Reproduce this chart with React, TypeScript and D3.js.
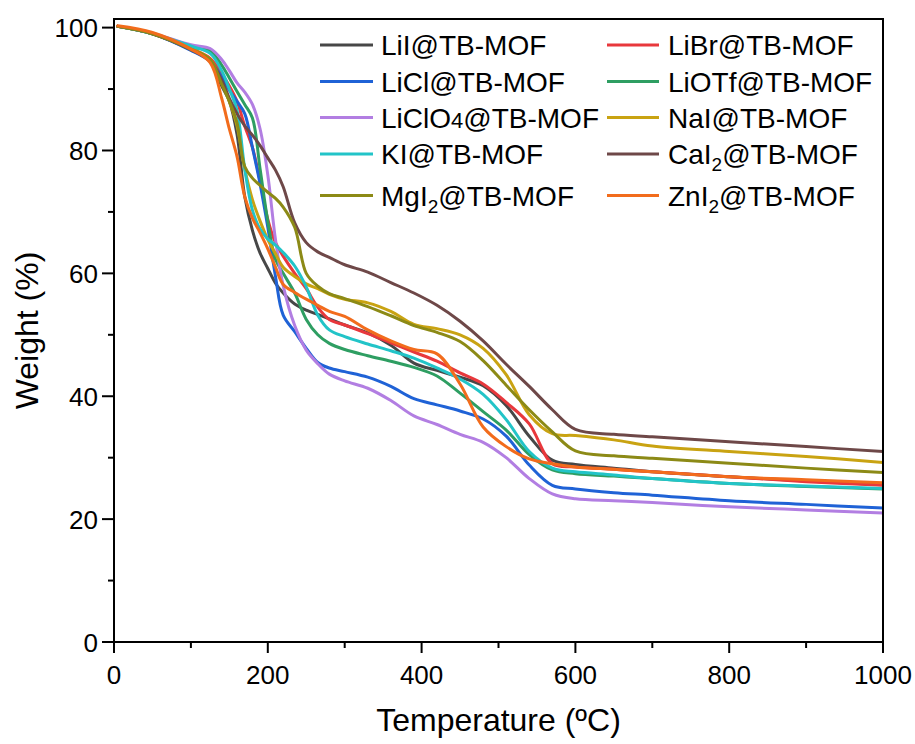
import React from 'react';
import * as d3 from 'd3';

// Temperature grid (°C) shared by every TGA curve
const temps = [5, 50, 100, 125, 140, 150, 160, 170, 180, 190, 200, 210, 220, 235, 250, 265, 280, 300, 330, 360, 390, 420, 450, 480, 510, 540, 570, 600, 650, 700, 800, 900, 1000];

const LiI = [100.2, 99.0, 96.4, 94.6, 90.5, 88.0, 82.6, 72.5, 67.0, 63.3, 60.8, 58.4, 56.8, 55.0, 54.0, 53.3, 52.6, 51.6, 50.3, 48.3, 45.4, 44.2, 43.1, 41.7, 38.5, 33.5, 29.6, 28.9, 28.3, 27.7, 26.9, 26.2, 25.6];
const LiBr = [100.2, 99.0, 96.6, 95.0, 92.5, 90.5, 88.0, 84.0, 80.5, 75.0, 68.8, 65.0, 62.8, 60.0, 57.5, 54.5, 52.5, 51.6, 50.2, 48.7, 47.2, 45.7, 43.8, 42.0, 39.0, 35.5, 29.0, 28.5, 28.1, 27.7, 26.9, 26.1, 25.5];
const LiCl = [100.2, 99.0, 96.3, 94.5, 92.0, 89.8, 88.0, 86.0, 80.5, 74.5, 67.5, 59.5, 53.2, 50.5, 47.8, 45.5, 44.6, 44.0, 43.1, 41.6, 39.6, 38.6, 37.6, 36.3, 33.5, 28.8, 25.5, 24.9, 24.3, 23.9, 23.0, 22.4, 21.8];
const LiOTf = [100.2, 99.0, 96.8, 96.2, 93.9, 91.8, 89.6, 87.5, 85.3, 77.0, 68.5, 62.3, 60.0, 56.8, 52.5, 50.0, 48.6, 47.6, 46.6, 45.7, 44.7, 43.3, 40.5, 37.5, 34.5, 30.5, 28.0, 27.4, 27.0, 26.6, 25.8, 25.3, 24.9];
const LiClO4 = [100.2, 99.1, 97.2, 96.6, 94.8, 93.0, 91.0, 89.5, 87.5, 83.5, 76.0, 65.5, 58.0, 51.5, 47.5, 45.3, 43.6, 42.5, 41.3, 39.3, 36.8, 35.4, 33.8, 32.5, 30.0, 26.6, 24.1, 23.3, 23.0, 22.7, 22.0, 21.5, 21.0];
const NaI = [100.2, 99.0, 96.6, 94.8, 91.0, 88.0, 84.0, 77.0, 72.0, 68.5, 65.5, 63.2, 61.0, 59.5, 58.3, 57.5, 56.6, 55.8, 55.2, 53.8, 51.7, 51.0, 50.0, 47.8, 43.5, 37.0, 33.9, 33.6, 32.9, 31.9, 31.0, 30.2, 29.2];
const KI = [100.2, 99.0, 97.0, 95.8, 93.0, 90.0, 86.5, 77.0, 70.3, 67.2, 65.6, 64.6, 63.4, 61.2, 57.8, 53.2, 50.8, 49.7, 48.5, 47.4, 46.2, 44.6, 42.8, 40.3, 36.2, 31.0, 28.3, 27.7, 27.2, 26.6, 25.8, 25.4, 25.0];
const CaI2 = [100.2, 99.0, 96.4, 94.5, 91.5, 88.5, 86.0, 84.0, 82.5, 80.8, 78.8, 76.8, 74.1, 68.2, 65.0, 63.5, 62.6, 61.4, 60.2, 58.5, 56.8, 54.8, 52.2, 49.0, 45.2, 41.6, 37.8, 34.6, 33.8, 33.4, 32.6, 31.8, 31.0];
const MgI2 = [100.2, 99.0, 96.5, 94.8, 90.8, 88.0, 84.5, 77.4, 75.5, 74.3, 73.2, 72.2, 70.8, 67.5, 60.0, 57.9, 56.7, 55.9, 54.6, 53.1, 51.5, 50.4, 48.9, 45.8, 41.8, 37.8, 34.2, 31.1, 30.3, 29.9, 29.1, 28.3, 27.6];
const ZnI2 = [100.3, 99.2, 96.5, 94.3, 88.5, 83.5, 79.0, 72.5, 69.0, 66.6, 64.0, 61.0, 58.2, 56.9, 55.8, 54.8, 53.8, 53.0, 50.8, 49.0, 47.6, 46.9, 42.0, 35.0, 31.8, 29.8, 29.0, 28.5, 28.1, 27.7, 26.9, 26.4, 25.9];

// Legend / series order (row-wise, two columns)
const seriesData = [LiI, LiBr, LiCl, LiOTf, LiClO4, NaI, KI, CaI2, MgI2, ZnI2];
const labelMain = ['LiI', 'LiBr', 'LiCl', 'LiOTf', 'LiClO', 'NaI', 'KI', 'CaI', 'MgI', 'ZnI'];
const labelSub = ['', '', '', '', '4', '', '', '2', '2', '2'];
const labelSuffix = '@TB-MOF';
const colors = ['#474747', '#e8383c', '#1f62d6', '#2e9e62', '#b27ee2', '#c9a312', '#22c4c8', '#6e4848', '#8c8a16', '#f26c1c'];

const xMajor = [0, 200, 400, 600, 800, 1000];
const xMinor = [100, 300, 500, 700, 900];
const yMajor = [0, 20, 40, 60, 80, 100];
const yMinor = [10, 30, 50, 70, 90];

const FONT = '"Liberation Sans", Arial, Helvetica, sans-serif';

export default function App() {
  const W = 915, H = 744;
  const left = 114, right = 883, top = 19, bottom = 642;
  const x = d3.scaleLinear().domain([0, 1000]).range([left, right]);
  const y = d3.scaleLinear().domain([0, 101.4]).range([bottom, top]);
  const line = d3
    .line<number>()
    .x((_, i) => x(temps[i]))
    .y((d) => y(d))
    .curve(d3.curveCatmullRom.alpha(0.5));

  const rowY = [45, 81.5, 117.5, 154, 195.5];
  const colLine = [[320, 373], [607, 659]];
  const colText = [381, 668];

  return (
    <div style={{ position: 'absolute', left: 0, top: 0 }}>
      <svg width={W} height={H} viewBox={`0 0 ${W} ${H}`} style={{ display: 'block', background: '#fff' }}>
        <rect x={0} y={0} width={W} height={H} fill="#fff" />
        <defs>
          <clipPath id="plotclip">
            <rect x={left} y={top} width={right - left} height={bottom - top} />
          </clipPath>
        </defs>
        <g clipPath="url(#plotclip)">
          {seriesData.map((s, i) => (
            <path key={i} d={line(s) || ''} fill="none" stroke={colors[i]} strokeWidth={3} strokeLinejoin="round" strokeLinecap="round" />
          ))}
        </g>
        {/* frame */}
        <rect x={left} y={top} width={right - left} height={bottom - top} fill="none" stroke="#000" strokeWidth={2} />
        {/* x ticks */}
        {xMajor.map((t) => (
          <g key={'xm' + t}>
            <line x1={x(t)} x2={x(t)} y1={bottom} y2={bottom + 11} stroke="#000" strokeWidth={2} />
            <text x={x(t)} y={bottom + 42} textAnchor="middle" fontFamily={FONT} fontSize={26} fill="#000">{t}</text>
          </g>
        ))}
        {xMinor.map((t) => (
          <line key={'xn' + t} x1={x(t)} x2={x(t)} y1={bottom} y2={bottom + 6} stroke="#000" strokeWidth={2} />
        ))}
        {/* y ticks */}
        {yMajor.map((t) => (
          <g key={'ym' + t}>
            <line x1={left - 12} x2={left} y1={y(t)} y2={y(t)} stroke="#000" strokeWidth={2} />
            <text x={left - 16} y={y(t) + 9.5} textAnchor="end" fontFamily={FONT} fontSize={26} fill="#000">{t}</text>
          </g>
        ))}
        {yMinor.map((t) => (
          <line key={'yn' + t} x1={left - 6} x2={left} y1={y(t)} y2={y(t)} stroke="#000" strokeWidth={2} />
        ))}
        {/* axis titles */}
        <text x={(left + right) / 2} y={731} textAnchor="middle" fontFamily={FONT} fontSize={32} fill="#000">Temperature (ºC)</text>
        <text transform={`translate(38, ${(top + bottom) / 2}) rotate(-90)`} textAnchor="middle" fontFamily={FONT} fontSize={32} fill="#000">Weight (%)</text>
        {/* legend */}
        {seriesData.map((_, i) => {
          const row = Math.floor(i / 2);
          const col = i % 2;
          const ly = rowY[row];
          const isSmall4 = labelSub[i] === '4';
          return (
            <g key={'lg' + i}>
              <line x1={colLine[col][0]} x2={colLine[col][1]} y1={ly} y2={ly} stroke={colors[i]} strokeWidth={3} />
              <text x={colText[col]} y={ly + 10} fontFamily={FONT} fontSize={28} fill="#000">
                {labelMain[i]}
                {labelSub[i] !== '' && (
                  isSmall4 ? (
                    <tspan fontSize={22}>{labelSub[i]}</tspan>
                  ) : (
                    <tspan fontSize={19} dy={7}>{labelSub[i]}</tspan>
                  )
                )}
                {labelSub[i] !== '' && !isSmall4 ? (
                  <tspan dy={-7}>{labelSuffix}</tspan>
                ) : (
                  <tspan>{labelSuffix}</tspan>
                )}
              </text>
            </g>
          );
        })}
      </svg>
    </div>
  );
}
